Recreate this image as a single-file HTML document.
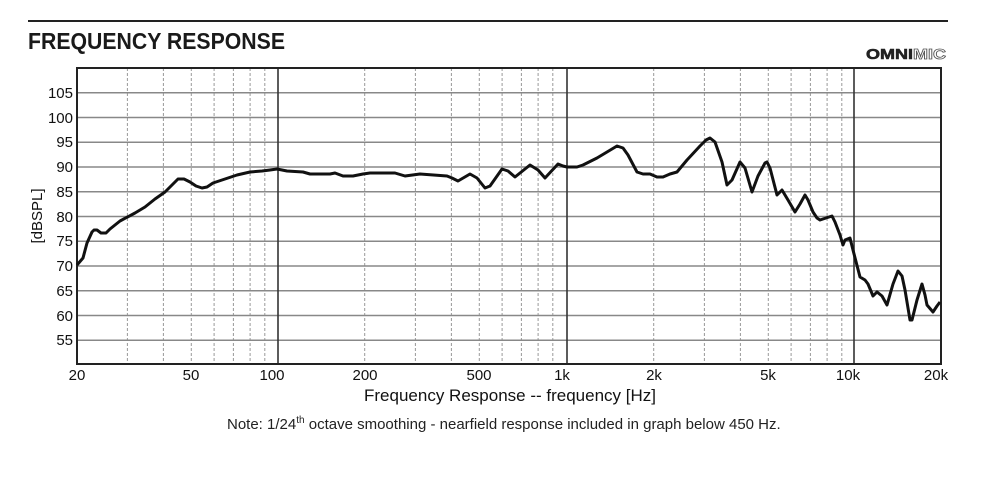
<!DOCTYPE html>
<html><head><meta charset="utf-8"><style>
html,body{margin:0;padding:0;background:#fff;}
svg{display:block;}
</style></head><body>
<svg width="1000" height="481" viewBox="0 0 1000 481" xmlns="http://www.w3.org/2000/svg" font-family="Liberation Sans, Arial, sans-serif">
<rect width="1000" height="481" fill="#fff"/>
<line x1="28" y1="21" x2="948" y2="21" stroke="#222" stroke-width="2"/>
<text x="28" y="49" font-size="23" font-weight="bold" fill="#1a1a1a" textLength="257" lengthAdjust="spacingAndGlyphs">FREQUENCY RESPONSE</text>
<text x="866" y="59" font-size="15" font-weight="bold" fill="#222" stroke="#222" stroke-width="0.6" textLength="80" lengthAdjust="spacingAndGlyphs">OMNI<tspan fill="#fff" stroke="#555" stroke-width="0.8">MIC</tspan></text>
<g stroke="#999" stroke-width="1" stroke-dasharray="3,2">
<line x1="127.4" y1="68" x2="127.4" y2="364"/><line x1="163.4" y1="68" x2="163.4" y2="364"/><line x1="191.3" y1="68" x2="191.3" y2="364"/><line x1="214.1" y1="68" x2="214.1" y2="364"/><line x1="233.4" y1="68" x2="233.4" y2="364"/><line x1="250.1" y1="68" x2="250.1" y2="364"/><line x1="264.8" y1="68" x2="264.8" y2="364"/>
<line x1="364.7" y1="68" x2="364.7" y2="364"/><line x1="415.4" y1="68" x2="415.4" y2="364"/><line x1="451.4" y1="68" x2="451.4" y2="364"/><line x1="479.3" y1="68" x2="479.3" y2="364"/><line x1="502.1" y1="68" x2="502.1" y2="364"/><line x1="521.4" y1="68" x2="521.4" y2="364"/><line x1="538.1" y1="68" x2="538.1" y2="364"/><line x1="552.8" y1="68" x2="552.8" y2="364"/>
<line x1="653.7" y1="68" x2="653.7" y2="364"/><line x1="704.4" y1="68" x2="704.4" y2="364"/><line x1="740.4" y1="68" x2="740.4" y2="364"/><line x1="768.3" y1="68" x2="768.3" y2="364"/><line x1="791.1" y1="68" x2="791.1" y2="364"/><line x1="810.4" y1="68" x2="810.4" y2="364"/><line x1="827.1" y1="68" x2="827.1" y2="364"/><line x1="841.8" y1="68" x2="841.8" y2="364"/>
</g>
<g stroke="#888" stroke-width="1.6">
<line x1="77" y1="92.75" x2="941" y2="92.75"/><line x1="77" y1="117.5" x2="941" y2="117.5"/><line x1="77" y1="142.25" x2="941" y2="142.25"/><line x1="77" y1="167" x2="941" y2="167"/><line x1="77" y1="191.75" x2="941" y2="191.75"/><line x1="77" y1="216.5" x2="941" y2="216.5"/><line x1="77" y1="241.25" x2="941" y2="241.25"/><line x1="77" y1="266" x2="941" y2="266"/><line x1="77" y1="290.75" x2="941" y2="290.75"/><line x1="77" y1="315.5" x2="941" y2="315.5"/><line x1="77" y1="340.25" x2="941" y2="340.25"/>
</g>
<g stroke="#333" stroke-width="1.6">
<line x1="278" y1="68" x2="278" y2="364"/><line x1="567" y1="68" x2="567" y2="364"/><line x1="854" y1="68" x2="854" y2="364"/>
</g>
<rect x="77" y="68" width="864" height="296" fill="none" stroke="#222" stroke-width="2"/>
<polyline fill="none" stroke="#111" stroke-width="3" stroke-linejoin="round" points="77,265 83,258 87,243 92,232 94,230 97,230 101,233 106,233 110,229 120,221 135,213 145,207 155,199 165,192 172,185 178,179 184,179 190,182 196,186 202,188 207,187 213,183 225,179 237,175 250,172 262,171 270,170 277,169 287,171 303,172 310,174 330,174 335,173 343,176 353,176 363,174 370,173 395,173 405,176 420,174 447,176 452,178 458,181 470,174 477,178 485,188 490,186 502,169 508,171 515,177 530,165 538,170 545,178 558,164 563,166 567,167 577,167 583,165 597,158 607,152 617,146 623,148 628,155 637,172 643,174 650,174 657,177 663,177 670,174 677,172 687,160 700,146 706,140 710,138 715,142 722,162 727,185 732,180 740,162 745,168 752,192 758,176 765,163 767,162 770,168 777,195 782,190 788,200 795,212 800,204 805,195 808,200 813,212 817,218 820,220 832,216 835,222 840,235 843,245 845,240 850,238 853,250 860,277 865,280 868,284 873,296 877,292 882,296 887,305 893,284 898,271 902,276 905,290 910,320 912,320 917,300 922,284 925,295 927,305 933,312 937,306 940,302"/>
<g font-size="15" fill="#111" text-anchor="end">
<text x="73" y="98">105</text><text x="73" y="123">100</text><text x="73" y="147">95</text><text x="73" y="172">90</text><text x="73" y="197">85</text><text x="73" y="222">80</text><text x="73" y="246">75</text><text x="73" y="271">70</text><text x="73" y="296">65</text><text x="73" y="321">60</text><text x="73" y="345">55</text>
</g>
<text transform="translate(42,216) rotate(-90)" font-size="15" fill="#111" text-anchor="middle">[dBSPL]</text>
<g font-size="15" fill="#111" text-anchor="middle">
<text x="77" y="380">20</text><text x="191" y="380">50</text><text x="272" y="380">100</text><text x="365" y="380">200</text><text x="479" y="380">500</text><text x="562" y="380">1k</text><text x="654" y="380">2k</text><text x="768" y="380">5k</text><text x="848" y="380">10k</text><text x="936" y="380">20k</text>
</g>
<text x="510" y="401" font-size="17" fill="#111" text-anchor="middle">Frequency Response -- frequency [Hz]</text>
<text x="227" y="429" font-size="15" fill="#222">Note: 1/24<tspan font-size="10" dy="-6">th</tspan><tspan dy="6"> octave smoothing - nearfield response included in graph below 450 Hz.</tspan></text>
</svg>
</body></html>
